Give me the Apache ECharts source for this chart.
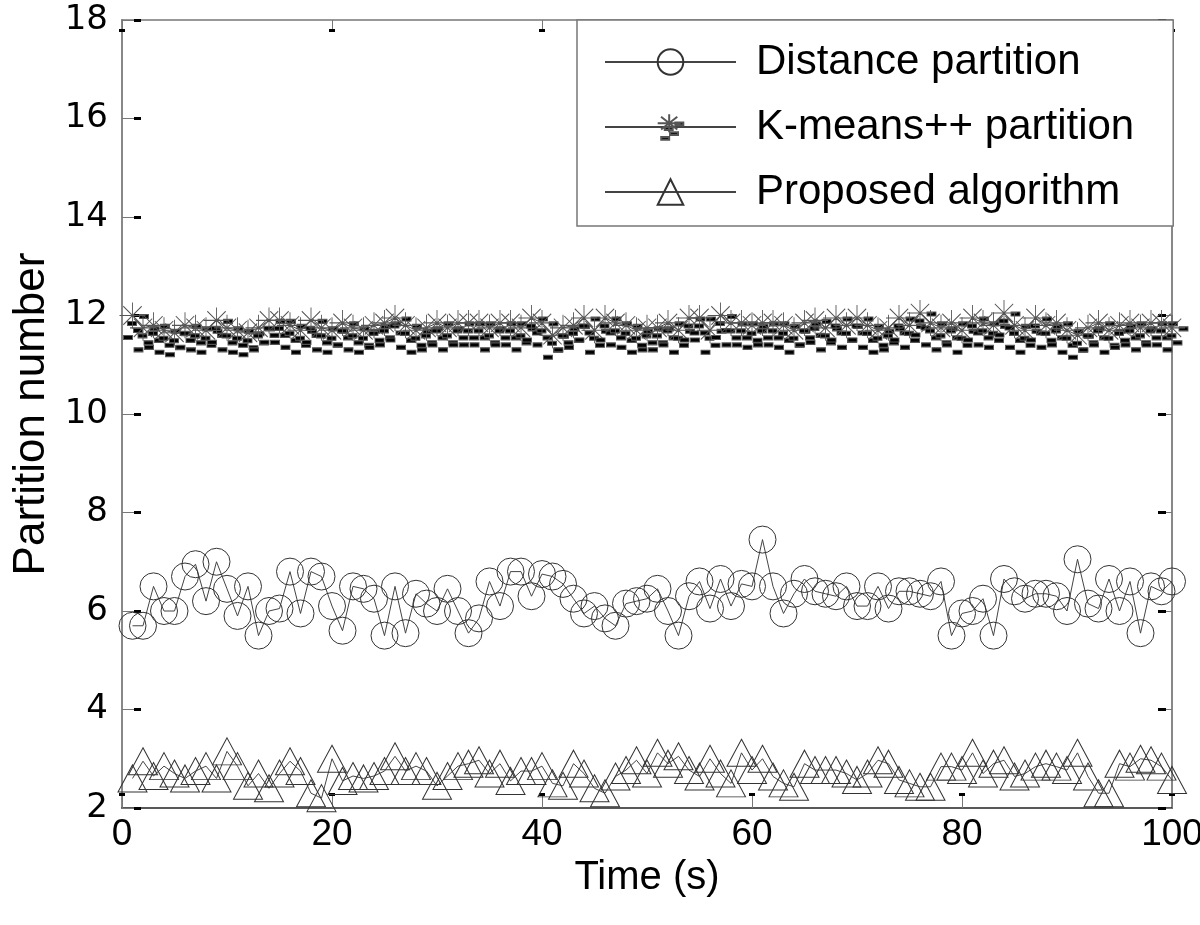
<!DOCTYPE html>
<html>
<head>
<meta charset="utf-8">
<script src="https://cdn.jsdelivr.net/npm/echarts@6/dist/echarts.min.js"></script>
<style>html,body{margin:0;padding:0;background:#fff;overflow:hidden}#chart{width:1200px;height:925px}</style>
</head>
<body>
<div id="chart"></div>
<script>
const timeSec = [1,2,3,4,5,6,7,8,9,10,11,12,13,14,15,16,17,18,19,20,21,22,23,24,25,26,27,28,29,30,31,32,33,34,35,36,37,38,39,40,41,42,43,44,45,46,47,48,49,50,51,52,53,54,55,56,57,58,59,60,61,62,63,64,65,66,67,68,69,70,71,72,73,74,75,76,77,78,79,80,81,82,83,84,85,86,87,88,89,90,91,92,93,94,95,96,97,98,99,100];
const distancePartition = [5.7,5.7,6.5,6.0,6.0,6.7,6.95,6.2,7.0,6.45,5.9,6.5,5.5,6.0,6.05,6.8,5.95,6.8,6.7,6.1,5.6,6.5,6.45,6.25,5.5,6.5,5.55,6.35,6.15,6.0,6.45,6.0,5.55,5.85,6.6,6.1,6.8,6.8,6.3,6.75,6.7,6.55,6.25,5.95,6.1,5.85,5.7,6.15,6.2,6.25,6.45,6.0,5.5,6.3,6.6,6.05,6.65,6.1,6.55,6.5,7.45,6.5,5.95,6.35,6.65,6.4,6.35,6.3,6.5,6.1,6.1,6.5,6.05,6.4,6.4,6.35,6.3,6.6,5.5,5.95,6.0,6.25,5.5,6.65,6.4,6.25,6.35,6.35,6.3,6.0,7.05,6.15,6.05,6.65,6.0,6.6,5.55,6.5,6.4,6.6];
const kmeansPartition = [12.0,11.75,11.8,11.7,11.65,11.8,11.75,11.7,11.9,11.75,11.7,11.65,11.75,11.9,11.9,11.8,11.7,11.9,11.75,11.7,11.85,11.75,11.7,11.8,11.85,11.95,11.8,11.7,11.75,11.85,11.75,11.85,11.85,11.85,11.75,11.85,11.85,11.75,11.95,11.85,11.6,11.75,11.8,11.95,11.7,11.95,11.85,11.8,11.7,11.75,11.75,11.85,11.7,11.95,11.95,11.7,12.0,11.85,11.85,11.8,11.85,11.85,11.8,11.7,11.85,11.9,11.75,11.95,11.8,11.95,11.8,11.7,11.75,11.95,11.8,12.05,11.85,11.75,11.85,11.7,11.95,11.85,11.8,12.05,11.8,11.7,11.95,11.8,11.85,11.7,11.6,11.75,11.85,11.7,11.8,11.85,11.75,11.85,11.85,11.75];
const proposedAlgorithm = [2.6,2.95,2.65,2.85,2.7,2.6,2.75,2.85,2.6,3.15,2.85,2.45,2.7,2.4,2.7,2.95,2.75,2.3,2.2,3.0,2.55,2.65,2.6,2.65,2.75,3.05,2.75,2.85,2.75,2.45,2.65,2.85,2.9,2.97,2.7,2.9,2.55,2.75,2.75,2.85,2.5,2.45,2.9,2.7,2.4,2.3,2.64,2.77,2.97,2.7,3.12,2.9,3.05,2.77,2.64,3.0,2.7,2.5,3.12,2.77,3.0,2.64,2.5,2.43,2.9,2.77,2.77,2.77,2.7,2.57,2.7,2.97,2.9,2.57,2.5,2.43,2.43,2.84,2.84,2.77,3.12,2.7,2.9,2.97,2.64,2.7,2.84,2.9,2.84,2.77,3.12,2.64,2.3,2.3,2.9,2.84,3.0,2.97,2.84,2.57];
const seriesNames = ['Distance partition','K-means++ partition','Proposed algorithm'];
const xTicks = {min:0, max:100, interval:20};
const yTicks = {min:2, max:18, interval:2};

const pairs = (vals) => vals.map((v, i) => [timeSec[i], v]);

const starPath = 'path://M0 13 L26 13 M13 0 L13 26 M3.8 3.8 L22.2 22.2 M22.2 3.8 L3.8 22.2 ' +
  'M20 12 L29 12 L29 16 L20 16 Z M8 19 L17 19 L17 23 L8 23 Z M14 26 L23 26 L23 30 L14 30 Z M4 33 L13 33 L13 37 L4 37 Z';

const chart = echarts.init(document.getElementById('chart'), null, {renderer: 'canvas'});

const hiddenAxisBase = {axisLabel: {show: false}, splitLine: {show: false}};

const option = {
  animation: false,
  backgroundColor: '#fff',
  grid: {left: 122, right: 28, top: 20, bottom: 117, show: false, outerBoundsMode: 'none', containLabel: false},
  legend: {
    orient: 'vertical', left: 577, top: 20,
    padding: [21, 39, 13, 27],
    itemWidth: 131, itemHeight: 32, itemGap: 23,
    borderColor: '#777', borderWidth: 1.5, backgroundColor: '#fff',
    textStyle: {color: '#000', fontSize: 42, fontFamily: '"Liberation Sans", sans-serif', padding: [0, 0, 0, 15]},
    data: seriesNames
  },
  xAxis: [
    {
      type: 'value', min: xTicks.min, max: xTicks.max, interval: xTicks.interval, position: 'bottom',
      axisLine: {show: true, onZero: false, lineStyle: {color: '#222', width: 1.5}},
      axisTick: {show: true, inside: true, length: 12, lineStyle: {color: '#777', width: 1}},
      axisLabel: {show: true, margin: 8, color: '#000', fontSize: 37, fontFamily: '"Liberation Sans Narrow", "Liberation Sans", sans-serif'},
      splitLine: {show: false},
      name: 'Time (s)', nameLocation: 'middle', nameGap: 42,
      nameTextStyle: {color: '#000', fontSize: 40, fontFamily: '"Liberation Sans", sans-serif'}
    },
    Object.assign({type: 'value', min: xTicks.min, max: xTicks.max, interval: xTicks.interval, position: 'top',
      axisLine: {show: true, onZero: false, lineStyle: {color: '#777', width: 1.5}},
      axisTick: {show: true, inside: true, length: 12, lineStyle: {color: '#777', width: 1}}}, hiddenAxisBase),
    Object.assign({type: 'value', min: xTicks.min, max: xTicks.max, interval: xTicks.interval, position: 'bottom', offset: -12,
      axisLine: {show: false, onZero: false},
      axisTick: {show: true, inside: true, length: 3, lineStyle: {color: '#000', width: 6}}}, hiddenAxisBase),
    Object.assign({type: 'value', min: xTicks.min, max: xTicks.max, interval: xTicks.interval, position: 'top', offset: -9,
      axisLine: {show: false, onZero: false},
      axisTick: {show: true, inside: true, length: 3, lineStyle: {color: '#000', width: 6}}}, hiddenAxisBase)
  ],
  yAxis: [
    {type: 'value', min: yTicks.min, max: yTicks.max, interval: yTicks.interval, position: 'left',
      axisLine: {show: true, onZero: false, lineStyle: {color: '#888', width: 2}},
      axisTick: {show: true, inside: true, length: 12, lineStyle: {color: '#777', width: 1}},
      axisLabel: {show: true, margin: 14, color: '#000', fontSize: 34, fontFamily: '"DejaVu Sans", sans-serif'},
      splitLine: {show: false},
      name: 'Partition number', nameLocation: 'middle', nameGap: 64, nameRotate: 90,
      nameTextStyle: {color: '#000', fontSize: 44, fontFamily: '"Liberation Sans", sans-serif'}},
    Object.assign({type: 'value', min: yTicks.min, max: yTicks.max, interval: yTicks.interval, position: 'right',
      axisLine: {show: true, onZero: false, lineStyle: {color: '#888', width: 2}},
      axisTick: {show: true, inside: true, length: 6, lineStyle: {color: '#777', width: 1}}}, hiddenAxisBase),
    Object.assign({type: 'value', min: yTicks.min, max: yTicks.max, interval: yTicks.interval, position: 'left', offset: -12,
      axisLine: {show: false, onZero: false},
      axisTick: {show: true, inside: true, length: 7, lineStyle: {color: '#000', width: 3}}}, hiddenAxisBase),
    Object.assign({type: 'value', min: yTicks.min, max: yTicks.max, interval: yTicks.interval, position: 'right', offset: -6,
      axisLine: {show: false, onZero: false},
      axisTick: {show: true, inside: true, length: 8, lineStyle: {color: '#000', width: 3}}}, hiddenAxisBase)
  ],
  series: [
    {
      name: seriesNames[0], type: 'line', data: pairs(distancePartition),
      symbol: 'circle', symbolSize: 27, showAllSymbol: true,
      lineStyle: {color: '#444', width: 1},
      itemStyle: {color: 'rgba(255,255,255,0)', borderColor: '#333', borderWidth: 1},
      emphasis: {disabled: true}, z: 3
    },
    {
      name: seriesNames[1], type: 'line', data: pairs(kmeansPartition),
      symbol: starPath, symbolSize: [29, 37], symbolOffset: [1.5, 5.5], showAllSymbol: true,
      lineStyle: {color: '#444', width: 1},
      itemStyle: {color: '#000', borderColor: '#555', borderWidth: 1},
      emphasis: {disabled: true}, z: 3
    },
    {
      name: seriesNames[2], type: 'line', data: pairs(proposedAlgorithm),
      symbol: 'triangle', symbolSize: [29, 27], showAllSymbol: true,
      lineStyle: {color: '#444', width: 1},
      itemStyle: {color: 'rgba(255,255,255,0)', borderColor: '#333', borderWidth: 1},
      emphasis: {disabled: true}, z: 3
    }
  ]
};
chart.setOption(option);
</script>
</body>
</html>
